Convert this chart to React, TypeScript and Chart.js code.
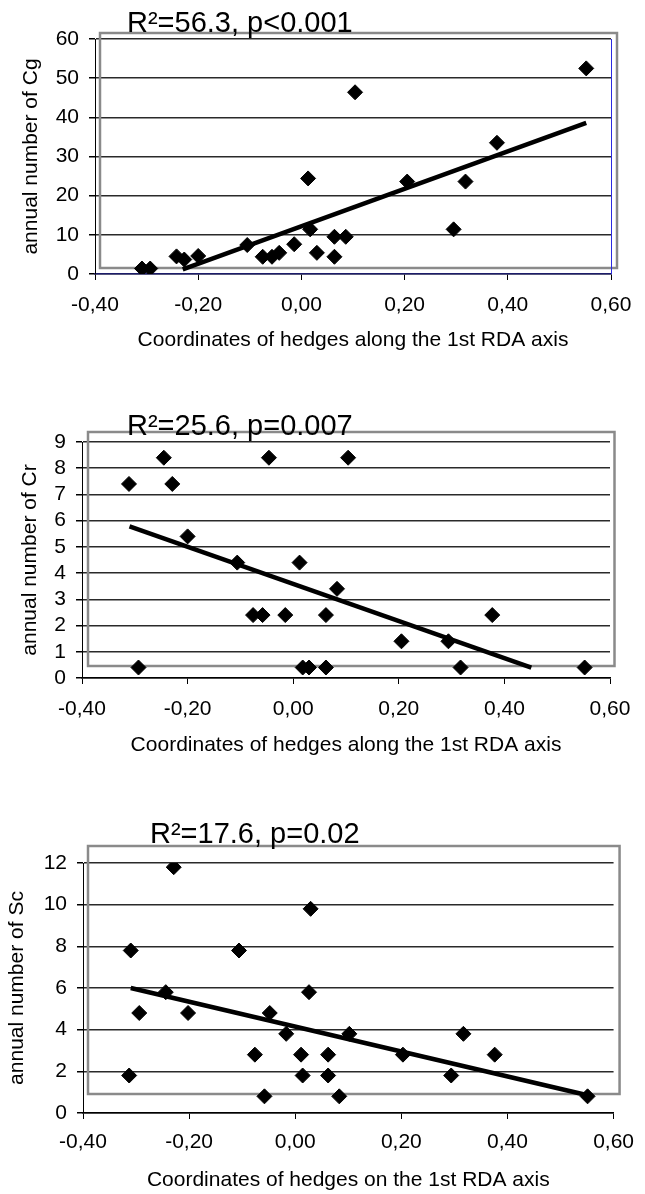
import React, { useEffect, useRef } from "react";
import { Chart, registerables } from "chart.js";

Chart.register(...registerables);

const FONT = "'Liberation Sans', Arial, Helvetica, sans-serif";

// shared x ticks (1st RDA axis coordinates)
const xTickValues = [-0.4, -0.2, 0, 0.2, 0.4, 0.6];

// ---------- Panel 1 : Cg ----------
const cgTitle = "R²=56.3, p<0.001";
const cgYLabel = "annual number of Cg";
const cgXLabel = "Coordinates of hedges along the 1st RDA axis";
const cgYTicks = [0, 10, 20, 30, 40, 50, 60];
const cgX = [-0.309, -0.293, -0.242, -0.227, -0.2, -0.105, -0.075, -0.057, -0.043, -0.014, 0.013, 0.017, 0.03, 0.064, 0.064, 0.086, 0.104, 0.205, 0.295, 0.318, 0.379, 0.552];
const cgY = [1.4, 1.4, 4.5, 3.7, 4.6, 7.4, 4.4, 4.4, 5.4, 7.6, 24.4, 11.4, 5.4, 4.4, 9.5, 9.5, 46.4, 23.6, 11.4, 23.6, 33.5, 52.5];
const cgTrendX = [-0.23, 0.552];
const cgTrendY = [1.2, 38.6];

// ---------- Panel 2 : Cr ----------
const crTitle = "R²=25.6, p=0.007";
const crYLabel = "annual number of Cr";
const crXLabel = "Coordinates of hedges along the 1st RDA axis";
const crYTicks = [0, 1, 2, 3, 4, 5, 6, 7, 8, 9];
const crX = [-0.311, -0.293, -0.245, -0.229, -0.2, -0.106, -0.076, -0.058, -0.046, -0.015, 0.012, 0.018, 0.03, 0.062, 0.062, 0.083, 0.104, 0.205, 0.294, 0.317, 0.377, 0.552];
const crY = [7.4, 0.4, 8.4, 7.4, 5.4, 4.4, 2.4, 2.4, 8.4, 2.4, 4.4, 0.4, 0.4, 0.4, 2.4, 3.4, 8.4, 1.4, 1.4, 0.4, 2.4, 0.4];
const crTrendX = [-0.31, 0.451];
const crTrendY = [5.78, 0.4];

// ---------- Panel 3 : Sc ----------
const scTitle = "R²=17.6, p=0.02";
const scYLabel = "annual number of Sc";
const scXLabel = "Coordinates of hedges on the 1st RDA axis";
const scYTicks = [0, 2, 4, 6, 8, 10, 12];
const scX = [-0.31, -0.313, -0.294, -0.244, -0.229, -0.202, -0.106, -0.076, -0.058, -0.048, -0.017, 0.011, 0.014, 0.026, 0.029, 0.062, 0.062, 0.083, 0.102, 0.203, 0.294, 0.317, 0.376, 0.551];
const scY = [7.8, 1.8, 4.8, 5.8, 11.8, 4.8, 7.8, 2.8, 0.8, 4.8, 3.8, 2.8, 1.8, 5.8, 9.8, 2.8, 1.8, 0.8, 3.8, 2.8, 1.8, 3.8, 2.8, 0.8];
const scTrendX = [-0.31, 0.551];
const scTrendY = [6.0, 0.85];

type Panel = {
  top: number;
  height: number;
  pad: { top: number; right: number; bottom: number; left: number };
  yWidth: number;
  xHeight: number;
  yTitlePad: number;
  xTickPad: number;
  title: string;
  titleDx: number;
  titleDy: number;
  box: [number, number, number, number];
  xs: number[];
  ys: number[];
  tx: number[];
  ty: number[];
  yTicks: number[];
  yLabel: string;
  xLabel: string;
  xAxisColor: string;
  rightLine?: string;
};

const panels: Panel[] = [
  {
    top: 0, height: 370,
    pad: { top: 39, right: 34, bottom: 17, left: 0 },
    yWidth: 95, xHeight: 79, yTitlePad: 19, xTickPad: 13,
    title: cgTitle, titleDx: 32, titleDy: 7,
    box: [5, -6, 6, -6],
    xs: cgX, ys: cgY, tx: cgTrendX, ty: cgTrendY,
    yTicks: cgYTicks, yLabel: cgYLabel, xLabel: cgXLabel,
    xAxisColor: "#1c1c6a", rightLine: "#2a2ae0",
  },
  {
    top: 370, height: 420,
    pad: { top: 72, right: 35, bottom: 32, left: 0 },
    yWidth: 82, xHeight: 80, yTitlePad: 18, xTickPad: 13,
    title: crTitle, titleDx: 45, titleDy: 7,
    box: [6, -10, 4.5, -12],
    xs: crX, ys: crY, tx: crTrendX, ty: crTrendY,
    yTicks: crYTicks, yLabel: crYLabel, xLabel: crXLabel,
    xAxisColor: "#000",
  },
  {
    top: 790, height: 404,
    pad: { top: 73, right: 22, bottom: 1, left: 0 },
    yWidth: 83, xHeight: 80, yTitlePad: 5, xTickPad: 11,
    title: scTitle, titleDx: 67, titleDy: 20,
    box: [5, -17, 6, -19],
    xs: scX, ys: scY, tx: scTrendX, ty: scTrendY,
    yTicks: scYTicks, yLabel: scYLabel, xLabel: scXLabel,
    xAxisColor: "#000",
  },
];

const fmtX = (v: number) => {
  const n = Math.abs(v) < 1e-9 ? 0 : v;
  return n.toFixed(2).replace(".", ",");
};

const decorPlugin = {
  id: "decor",
  beforeDatasetsDraw(chart: any, _args: any, opts: any) {
    const { ctx, chartArea: a } = chart;
    const [l, t, r, b] = opts.box;
    ctx.save();
    ctx.strokeStyle = "#8a8a8a";
    ctx.lineWidth = 2.5;
    const x0 = a.left + l;
    const y0 = a.top + t;
    ctx.strokeRect(x0, y0, a.right + r - x0, a.bottom + b - y0);
    if (opts.rightLine) {
      ctx.strokeStyle = opts.rightLine;
      ctx.lineWidth = 1;
      ctx.beginPath();
      ctx.moveTo(a.right + 0.5, a.top);
      ctx.lineTo(a.right + 0.5, a.bottom);
      ctx.stroke();
    }
    ctx.restore();
  },
  afterDraw(chart: any, _args: any, opts: any) {
    const { ctx, chartArea: a } = chart;
    ctx.save();
    ctx.fillStyle = "#000";
    ctx.font = `29px ${FONT}`;
    ctx.textAlign = "left";
    ctx.textBaseline = "alphabetic";
    ctx.fillText(opts.title, a.left + opts.dx, a.top - opts.dy);
    ctx.restore();
  },
};

function PanelChart({ p }: { p: Panel }) {
  const ref = useRef<HTMLCanvasElement | null>(null);
  useEffect(() => {
    if (!ref.current) return;
    const chart = new Chart(ref.current, {
      type: "scatter",
      data: {
        datasets: [
          {
            data: p.xs.map((x, i) => ({ x, y: p.ys[i] })),
            pointStyle: "rectRot",
            pointRadius: 7.5,
            pointHoverRadius: 7.5,
            backgroundColor: "#000",
            borderColor: "#000",
            borderWidth: 1,
          } as any,
          {
            data: p.tx.map((x, i) => ({ x, y: p.ty[i] })),
            showLine: true,
            pointRadius: 0,
            borderColor: "#000",
            borderWidth: 4.5,
            fill: false,
          } as any,
        ],
      },
      options: {
        responsive: false,
        animation: false,
        devicePixelRatio: 1,
        layout: { padding: p.pad },
        plugins: {
          legend: { display: false },
          tooltip: { enabled: false },
          decor: { box: p.box, rightLine: p.rightLine, title: p.title, dx: p.titleDx, dy: p.titleDy },
        } as any,
        scales: {
          x: {
            type: "linear",
            min: -0.4,
            max: 0.6,
            afterBuildTicks: (s: any) => {
              s.ticks = xTickValues.map((v) => ({ value: v }));
            },
            afterFit: (s: any) => {
              s.height = p.xHeight;
            },
            ticks: {
              color: "#000",
              font: { family: FONT, size: 21 },
              padding: p.xTickPad,
              maxRotation: 0,
              autoSkip: false,
              callback: (v: any) => fmtX(Number(v)),
            },
            grid: { drawOnChartArea: false, drawTicks: true, tickLength: 6, color: "#000", tickColor: "#000" },
            border: { display: true, color: p.xAxisColor, width: 1.5 },
            title: {
              display: true,
              text: p.xLabel,
              color: "#000",
              font: { family: FONT, size: 21 },
              padding: { top: 0, bottom: 0 },
            },
          },
          y: {
            type: "linear",
            min: p.yTicks[0],
            max: p.yTicks[p.yTicks.length - 1],
            afterBuildTicks: (s: any) => {
              s.ticks = p.yTicks.map((v) => ({ value: v }));
            },
            afterFit: (s: any) => {
              s.width = p.yWidth;
            },
            ticks: {
              color: "#000",
              font: { family: FONT, size: 21 },
              padding: 10,
              autoSkip: false,
            },
            grid: { drawTicks: true, tickLength: 6, color: "#2a2a2a", tickColor: "#000", lineWidth: 1.5 },
            border: { display: true, color: "#000", width: 1 },
            title: {
              display: true,
              text: p.yLabel,
              color: "#000",
              font: { family: FONT, size: 21 },
              padding: { top: p.yTitlePad, bottom: 0 },
            },
          },
        },
      },
      plugins: [decorPlugin as any],
    });
    return () => chart.destroy();
  }, [p]);
  return (
    <canvas
      ref={ref}
      width={645}
      height={p.height}
      style={{ position: "absolute", left: 0, top: p.top, width: 645, height: p.height, display: "block" }}
    />
  );
}

export default function App() {
  return (
    <div style={{ position: "absolute", left: 0, top: 0, width: 645, height: 1194, background: "#fff" }}>
      {panels.map((p, i) => (
        <PanelChart key={i} p={p} />
      ))}
    </div>
  );
}
